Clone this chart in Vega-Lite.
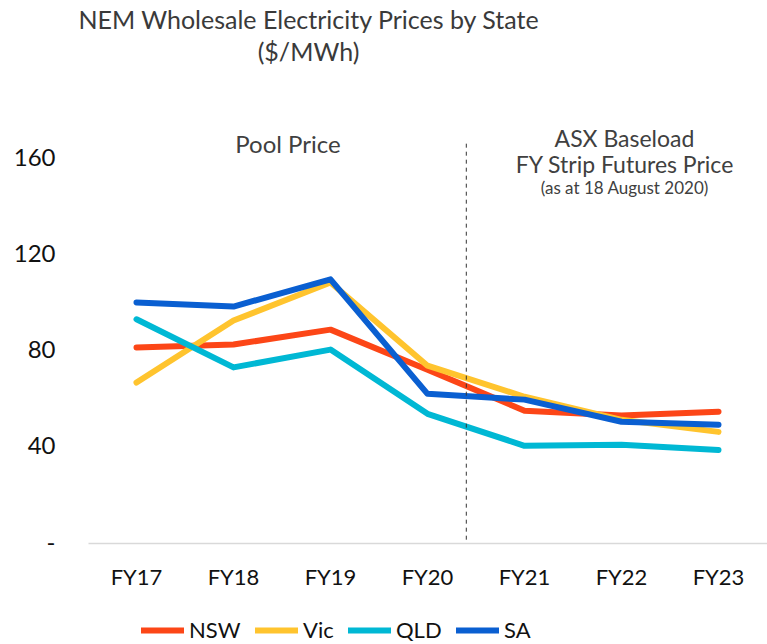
{
  "$schema": "https://vega.github.io/schema/vega-lite/v6.json",
  "width": 679,
  "height": 433,
  "autosize": "none",
  "padding": {"left": 88, "top": 110, "right": 0, "bottom": 101},
  "background": "white",
  "config": {
    "view": {"stroke": null},
    "font": "Lato"
  },
  "title": {
    "text": ["NEM Wholesale Electricity Prices by State", "($/MWh)"],
    "fontSize": 25,
    "fontWeight": "normal",
    "color": "#3a3a3a",
    "anchor": "middle",
    "frame": "group",
    "dx": -119,
    "offset": 44,
    "lineHeight": 32
  },
  "datasets": {
    "prices": [
      {"fy": "FY17", "state": "NSW", "price": 81.3},
      {"fy": "FY18", "state": "NSW", "price": 82.5},
      {"fy": "FY19", "state": "NSW", "price": 88.7},
      {"fy": "FY20", "state": "NSW", "price": 72},
      {"fy": "FY21", "state": "NSW", "price": 55},
      {"fy": "FY22", "state": "NSW", "price": 53},
      {"fy": "FY23", "state": "NSW", "price": 54.6},
      {"fy": "FY17", "state": "Vic", "price": 66.7},
      {"fy": "FY18", "state": "Vic", "price": 92.5},
      {"fy": "FY19", "state": "Vic", "price": 108.3},
      {"fy": "FY20", "state": "Vic", "price": 73.7},
      {"fy": "FY21", "state": "Vic", "price": 60.8},
      {"fy": "FY22", "state": "Vic", "price": 51.2},
      {"fy": "FY23", "state": "Vic", "price": 46.2},
      {"fy": "FY17", "state": "QLD", "price": 93},
      {"fy": "FY18", "state": "QLD", "price": 73},
      {"fy": "FY19", "state": "QLD", "price": 80.4},
      {"fy": "FY20", "state": "QLD", "price": 53.7},
      {"fy": "FY21", "state": "QLD", "price": 40.4},
      {"fy": "FY22", "state": "QLD", "price": 40.8},
      {"fy": "FY23", "state": "QLD", "price": 38.7},
      {"fy": "FY17", "state": "SA", "price": 100},
      {"fy": "FY18", "state": "SA", "price": 98.3},
      {"fy": "FY19", "state": "SA", "price": 109.6},
      {"fy": "FY20", "state": "SA", "price": 62},
      {"fy": "FY21", "state": "SA", "price": 59.6},
      {"fy": "FY22", "state": "SA", "price": 50.4},
      {"fy": "FY23", "state": "SA", "price": 49.2}
    ],
    "divider": [{"fy": "FY20", "top": 166, "bottom": 0}],
    "pool": [{"fy": "FY18", "label": "Pool Price", "price": 165}],
    "asx": [
      {"fy": "FY22", "label": "ASX Baseload", "price": 167.6},
      {"fy": "FY22", "label": "FY Strip Futures Price", "price": 156.8}
    ],
    "asxnote": [
      {"fy": "FY22", "label": "(as at 18 August 2020)", "price": 147}
    ]
  },
  "layer": [
    {
      "data": {"name": "prices"},
      "mark": {"type": "line", "strokeWidth": 6, "strokeCap": "round", "strokeJoin": "round"},
      "encoding": {
        "x": {
          "field": "fy", "type": "ordinal",
          "scale": {"paddingInner": 0, "paddingOuter": 0},
          "axis": {
            "title": null, "labelAngle": 0, "labelFontSize": 22, "labelColor": "#111111",
            "labelPadding": 24, "ticks": false, "domainColor": "#d9d9d9", "domainWidth": 1.5
          }
        },
        "y": {
          "field": "price", "type": "quantitative",
          "scale": {"domain": [0, 180], "nice": false},
          "axis": {
            "title": null, "values": [0, 40, 80, 120, 160], "grid": false, "domain": false, "ticks": false,
            "labelFontSize": 24, "labelColor": "#111111", "labelPadding": 33,
            "labelExpr": "datum.value == 0 ? '-' : datum.label"
          }
        },
        "color": {
          "field": "state", "type": "nominal",
          "scale": {"domain": ["NSW", "Vic", "QLD", "SA"], "range": ["#FC4617", "#FFC42E", "#00B8D4", "#0A5FD1"]},
          "legend": {
            "title": null, "orient": "none", "direction": "horizontal",
            "legendX": 50, "legendY": 496, "gridAlign": "none",
            "symbolType": "stroke", "symbolSize": 1849, "symbolStrokeWidth": 6,
            "labelFontSize": 22, "labelColor": "#111111", "labelOffset": 2, "columnPadding": 2
          }
        }
      }
    },
    {
      "data": {"name": "divider"},
      "mark": {"type": "rule", "strokeDash": [4, 4], "color": "#333333", "strokeWidth": 1},
      "encoding": {
        "x": {"field": "fy", "type": "ordinal", "bandPosition": 0.9},
        "y": {"field": "top", "type": "quantitative"},
        "y2": {"field": "bottom"}
      }
    },
    {
      "data": {"name": "pool"},
      "mark": {"type": "text", "fontSize": 24, "color": "#404040", "dx": 6},
      "encoding": {
        "x": {"field": "fy", "type": "ordinal", "bandPosition": 1},
        "y": {"field": "price", "type": "quantitative"},
        "text": {"field": "label"}
      }
    },
    {
      "data": {"name": "asx"},
      "mark": {"type": "text", "fontSize": 23, "color": "#404040", "dx": 3},
      "encoding": {
        "x": {"field": "fy", "type": "ordinal"},
        "y": {"field": "price", "type": "quantitative"},
        "text": {"field": "label"}
      }
    },
    {
      "data": {"name": "asxnote"},
      "mark": {"type": "text", "fontSize": 17, "color": "#404040", "dx": 3},
      "encoding": {
        "x": {"field": "fy", "type": "ordinal"},
        "y": {"field": "price", "type": "quantitative"},
        "text": {"field": "label"}
      }
    }
  ]
}
